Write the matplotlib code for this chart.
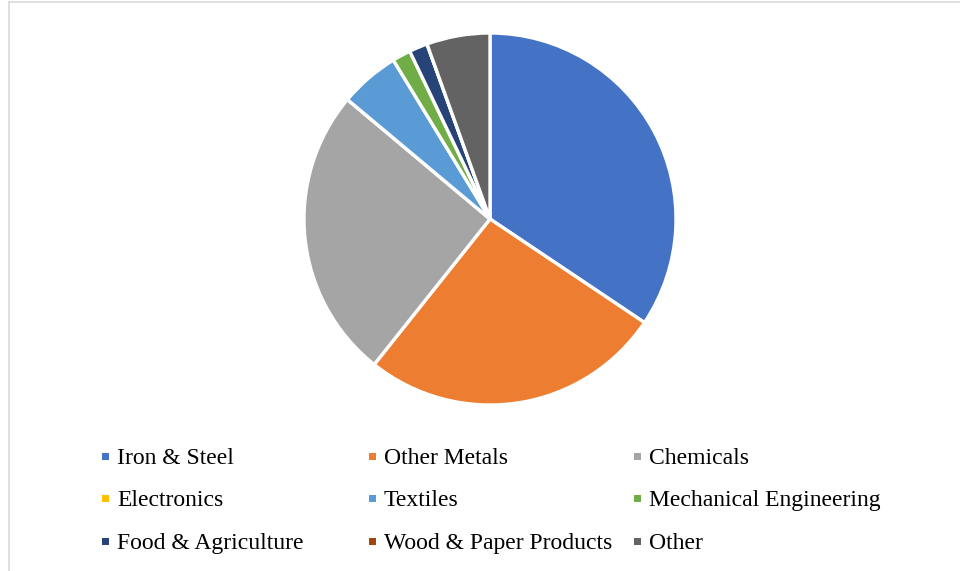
import matplotlib.pyplot as plt
from matplotlib.patches import Rectangle

plt.rcParams['font.family'] = ['Liberation Serif', 'DejaVu Serif']

categories = ['Iron & Steel', 'Other Metals', 'Chemicals', 'Electronics', 'Textiles',
              'Mechanical Engineering', 'Food & Agriculture', 'Wood & Paper Products', 'Other']
shares = [34.4, 26.3, 25.4, 0.0, 5.2, 1.6, 1.6, 0.0, 5.5]
colors = ['#4472c4', '#ed7d31', '#a5a5a5', '#ffc000', '#5b9bd5',
          '#70ad47', '#264478', '#9e480e', '#636363']

W, H = 960, 571
fig = plt.figure(figsize=(W / 100, H / 100), dpi=100)

# outer chart frame (only left and top edges are visible in the crop)
fig.add_artist(Rectangle((9 / W, -0.1), 1.2, 1.1 - 2 / H, transform=fig.transFigure,
                         fill=False, edgecolor='#d9d9d9', linewidth=1.2))

# pie area
cx, cy, r = 490, 219, 186
ax = fig.add_axes([(cx - r) / W, (H - cy - r) / H, 2 * r / W, 2 * r / H])
ax.pie(shares, colors=colors, startangle=90, counterclock=False,
       wedgeprops=dict(edgecolor='white', linewidth=2.4))
ax.set_xlim(-1, 1)
ax.set_ylim(-1, 1)
ax.set_aspect('equal')
ax.axis('off')

# legend, 3 columns x 3 rows
col_x = [105, 372, 637]
row_y = [456, 498, 541]
for i, (name, c) in enumerate(zip(categories, colors)):
    x = col_x[i % 3]
    y = row_y[i // 3]
    fig.add_artist(Rectangle(((x - 3.5) / W, (H - y - 3.5) / H), 7 / W, 7 / H,
                             transform=fig.transFigure, facecolor=c, edgecolor='none'))
    fig.text((x + 12) / W, (H - y) / H, name, fontsize=17, va='center_baseline',
             ha='left', color='black')

fig.savefig('out.png', dpi=100)
